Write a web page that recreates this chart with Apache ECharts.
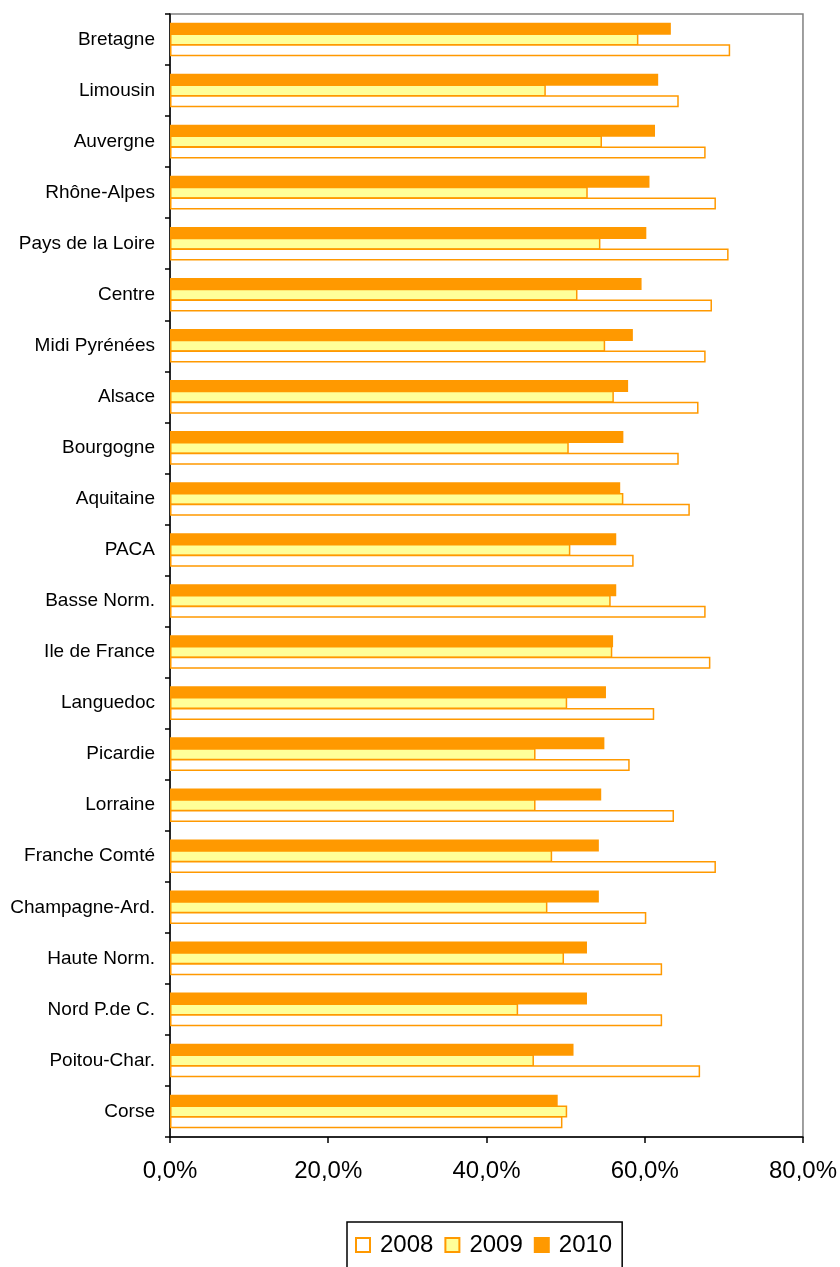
<!DOCTYPE html>
<html><head><meta charset="utf-8">
<script src="https://cdn.jsdelivr.net/npm/echarts@6/dist/echarts.min.js"></script>
<style>html,body{margin:0;padding:0;background:#fff}#c{width:840px;height:1267px}</style>
</head><body><div id="c"></div>
<script>
const regions = ["Bretagne","Limousin","Auvergne","Rhône-Alpes","Pays de la Loire","Centre","Midi Pyrénées","Alsace","Bourgogne","Aquitaine","PACA","Basse Norm.","Ile de France","Languedoc","Picardie","Lorraine","Franche Comté","Champagne-Ard.","Haute Norm.","Nord P.de C.","Poitou-Char.","Corse"];
const v2008 = [70.8,64.3,67.7,69.0,70.6,68.5,67.7,66.8,64.3,65.7,58.6,67.7,68.3,61.2,58.1,63.7,69.0,60.2,62.2,62.2,67.0,49.6];
const v2009 = [59.2,47.5,54.6,52.8,54.4,51.5,55.0,56.1,50.4,57.3,50.6,55.7,55.9,50.2,46.2,46.2,48.3,47.7,49.8,44.0,46.0,50.2];
const v2010 = [63.3,61.7,61.3,60.6,60.2,59.6,58.5,57.9,57.3,56.9,56.4,56.4,56.0,55.1,54.9,54.5,54.2,54.2,52.7,52.7,51.0,49.0];
const years = ["2008","2009","2010"];
const xTicks = [0,20,40,60,80];

const chart = echarts.init(document.getElementById('c'), null, {renderer:'canvas'});
const FONT = 'Liberation Sans, Arial, sans-serif';
const orange = '#FF9900';
const mk = (name, data, fill) => ({
  name, type:'bar', data, barWidth:12, barGap:'-10%', barCategoryGap:'33%',
  itemStyle:{color:fill, borderColor:orange, borderWidth:1.5},
  emphasis:{disabled:true}
});
chart.setOption({
  animation:false,
  grid:{left:170, right:34, top:14, bottom:130, show:true, borderColor:'#808080', borderWidth:1.5},
  legend:{
    data:years, left:347, top:1222, orient:'horizontal', icon:'rect',
    itemWidth:14, itemHeight:14, itemGap:11,
    padding:[11,10,20,8], borderColor:'#000', borderWidth:1.5,
    textStyle:{fontFamily:FONT, fontSize:24, color:'#000', padding:[0,0,0,5]}
  },
  xAxis:{
    type:'value', min:0, max:80, interval:20,
    axisLine:{show:true, lineStyle:{color:'#000', width:1.5}},
    axisTick:{show:true, length:6, lineStyle:{color:'#000', width:1.5}},
    splitLine:{show:false},
    axisLabel:{margin:22, fontFamily:FONT, fontSize:24, color:'#000',
      formatter:v => xTicks.includes(v) ? v.toFixed(1).replace('.',',')+'%' : ''}
  },
  yAxis:{
    type:'category', data:regions, inverse:true,
    axisLine:{show:true, lineStyle:{color:'#000', width:1.5}},
    axisTick:{show:true, length:5, lineStyle:{color:'#000', width:1.5}},
    axisLabel:{margin:15, fontFamily:FONT, fontSize:19, color:'#000'}
  },
  series:[
    mk('2010', v2010, orange),
    mk('2009', v2009, '#FFFF99'),
    mk('2008', v2008, '#FFFFFF')
  ]
});
</script></body></html>
